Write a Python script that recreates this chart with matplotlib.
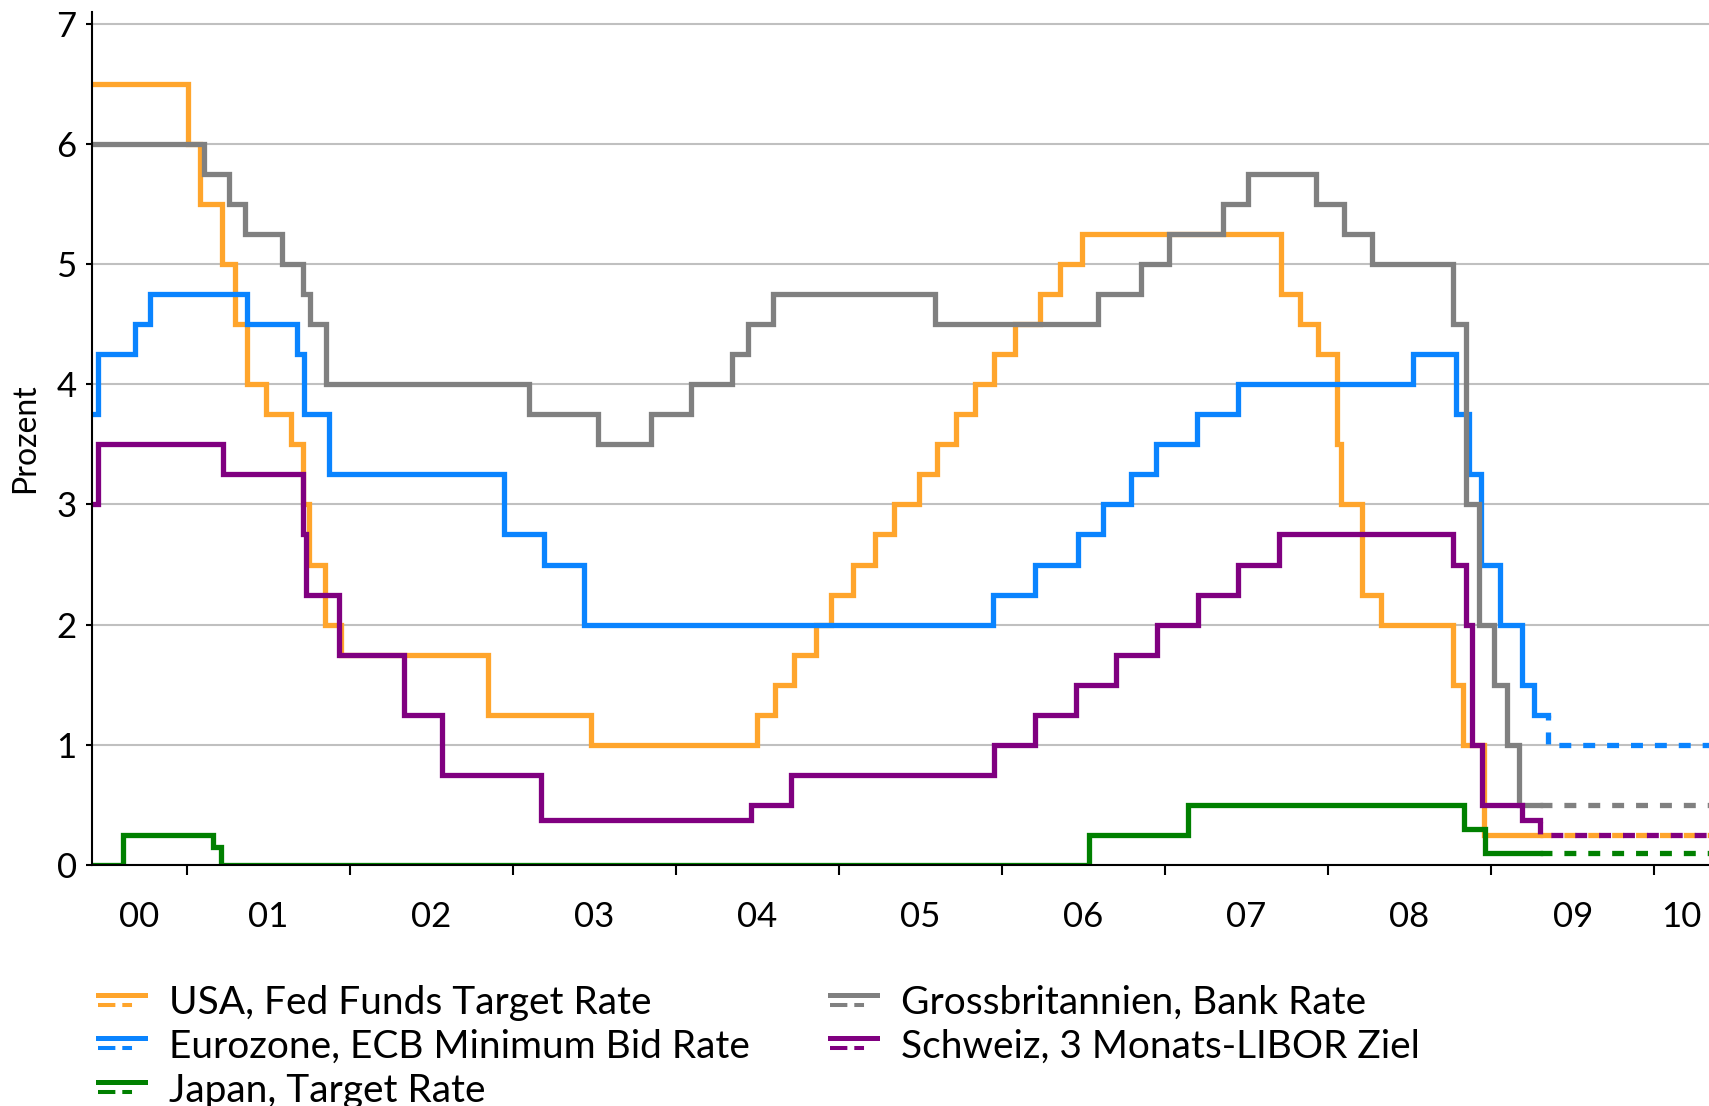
import matplotlib
matplotlib.use("Agg")
import matplotlib.pyplot as plt
import matplotlib.dates as mdates
from matplotlib.legend_handler import HandlerBase
from matplotlib.lines import Line2D
import pandas as pd

plt.rcParams['font.family'] = ['Lato', 'DejaVu Sans']
plt.rcParams['lines.scale_dashes'] = False

# Leitzinsen, Stufenwerte (Datum der Änderung, neuer Satz in %)
usa_dates = ["2000-06-01", "2001-01-03", "2001-01-31", "2001-03-20", "2001-04-18", "2001-05-15",
             "2001-06-27", "2001-08-21", "2001-09-17", "2001-10-02", "2001-11-06", "2001-12-11",
             "2002-11-06", "2003-06-25", "2004-06-30", "2004-08-10", "2004-09-21", "2004-11-10",
             "2004-12-14", "2005-02-02", "2005-03-22", "2005-05-03", "2005-06-30", "2005-08-09",
             "2005-09-20", "2005-11-01", "2005-12-13", "2006-01-31", "2006-03-28", "2006-05-10",
             "2006-06-29", "2007-09-18", "2007-10-31", "2007-12-11", "2008-01-22", "2008-01-30",
             "2008-03-18", "2008-04-30", "2008-10-08", "2008-10-29", "2008-12-16", "2009-04-20"]
usa_rates = [6.5, 6.0, 5.5, 5.0, 4.5, 4.0, 3.75, 3.5, 3.0, 2.5, 2.0, 1.75,
             1.25, 1.0, 1.25, 1.5, 1.75, 2.0, 2.25, 2.5, 2.75, 3.0, 3.25, 3.5,
             3.75, 4.0, 4.25, 4.5, 4.75, 5.0, 5.25, 4.75, 4.5, 4.25, 3.5, 3.0,
             2.25, 2.0, 1.5, 1.0, 0.25, 0.25]

ecb_dates = ["2000-06-01", "2000-06-15", "2000-09-06", "2000-10-11", "2001-05-15", "2001-09-05",
             "2001-09-19", "2001-11-14", "2002-12-11", "2003-03-12", "2003-06-09", "2005-12-12",
             "2006-03-15", "2006-06-21", "2006-08-15", "2006-10-16", "2006-12-13", "2007-03-14",
             "2007-06-13", "2008-07-09", "2008-10-15", "2008-11-12", "2008-12-10", "2009-01-21",
             "2009-03-11", "2009-04-08", "2009-05-08"]
ecb_rates = [3.75, 4.25, 4.5, 4.75, 4.5, 4.25, 3.75, 3.25, 2.75, 2.5, 2.0, 2.25,
             2.5, 2.75, 3.0, 3.25, 3.5, 3.75, 4.0, 4.25, 3.75, 3.25, 2.5, 2.0,
             1.5, 1.25, 1.25]

jpn_dates = ["2000-06-01", "2000-08-11", "2001-02-28", "2001-03-19", "2006-07-14", "2007-02-21",
             "2008-10-31", "2008-12-19", "2009-04-20"]
jpn_rates = [0.0, 0.25, 0.15, 0.0, 0.25, 0.5, 0.3, 0.1, 0.1]

uk_dates = ["2000-06-01", "2001-02-08", "2001-04-05", "2001-05-10", "2001-08-02", "2001-09-18",
            "2001-10-04", "2001-11-08", "2003-02-06", "2003-07-10", "2003-11-06", "2004-02-05",
            "2004-05-06", "2004-06-10", "2004-08-05", "2005-08-04", "2006-08-03", "2006-11-09",
            "2007-01-11", "2007-05-10", "2007-07-05", "2007-12-06", "2008-02-07", "2008-04-10",
            "2008-10-08", "2008-11-06", "2008-12-04", "2009-01-08", "2009-02-05", "2009-03-05",
            "2009-04-20"]
uk_rates = [6.0, 5.75, 5.5, 5.25, 5.0, 4.75, 4.5, 4.0, 3.75, 3.5, 3.75, 4.0,
            4.25, 4.5, 4.75, 4.5, 4.75, 5.0, 5.25, 5.5, 5.75, 5.5, 5.25, 5.0,
            4.5, 3.0, 2.0, 1.5, 1.0, 0.5, 0.5]

ch_dates = ["2000-06-01", "2000-06-15", "2001-03-22", "2001-09-17", "2001-09-24", "2001-12-07",
            "2002-05-02", "2002-07-26", "2003-03-06", "2004-06-17", "2004-09-16", "2005-12-15",
            "2006-03-16", "2006-06-15", "2006-09-14", "2006-12-14", "2007-03-15", "2007-06-14",
            "2007-09-13", "2008-10-08", "2008-11-06", "2008-11-20", "2008-12-11", "2009-03-12",
            "2009-04-20"]
ch_rates = [3.0, 3.5, 3.25, 2.75, 2.25, 1.75, 1.25, 0.75, 0.375, 0.5, 0.75, 1.0,
            1.25, 1.5, 1.75, 2.0, 2.25, 2.5, 2.75, 2.5, 2.0, 1.0, 0.5, 0.375, 0.375]

# Prognose (gestrichelt)
end_date = "2010-05-04"
usa_fc_dates = ["2009-04-20", end_date]
usa_fc_rates = [0.25, 0.25]
ecb_fc_dates = ["2009-05-08", "2009-05-08", end_date]
ecb_fc_rates = [1.25, 1.0, 1.0]
jpn_fc_dates = ["2009-04-20", end_date]
jpn_fc_rates = [0.1, 0.1]
uk_fc_dates = ["2009-04-20", end_date]
uk_fc_rates = [0.5, 0.5]
ch_fc_dates = ["2009-04-20", "2009-04-20", end_date]
ch_fc_rates = [0.375, 0.25, 0.25]

years = list(range(2000, 2011))
year_labels = ["00", "01", "02", "03", "04", "05", "06", "07", "08", "09", "10"]

c_usa = "#FFA52C"
c_ecb = "#0A84FF"
c_jpn = "#008000"
c_uk = "#808080"
c_ch = "#800080"

W, H = 1709, 1106
fig = plt.figure(figsize=(W / 100, H / 100), dpi=100)
ax = fig.add_axes([92 / W, 1 - 865 / H, (W - 92) / W, (865 - 11.6) / H])

lw = 3.8
dl = 8.6  # Strichlänge in pt
series = [
    (usa_dates, usa_rates, usa_fc_dates, usa_fc_rates, c_usa, (0, (dl, dl))),
    (ecb_dates, ecb_rates, ecb_fc_dates, ecb_fc_rates, c_ecb, (5.0, (dl, dl))),
    (uk_dates, uk_rates, uk_fc_dates, uk_fc_rates, c_uk, (0, (dl, dl))),
    (ch_dates, ch_rates, ch_fc_dates, ch_fc_rates, c_ch, (15.8, (dl, dl))),
    (jpn_dates, jpn_rates, jpn_fc_dates, jpn_fc_rates, c_jpn, (0, (dl, dl))),
]
for d, r, fd, fr, col, ls in series:
    ax.step(pd.to_datetime(d), r, where="post", color=col, lw=lw, solid_joinstyle="miter")
    ax.step(pd.to_datetime(fd), fr, where="post", color=col, lw=lw, linestyle=ls,
            dash_capstyle="butt")

x0 = mdates.date2num(pd.Timestamp("2000-06-02"))
x1 = mdates.date2num(pd.Timestamp(end_date))
ax.set_xlim(x0, x1)
ax.set_ylim(0, 7.1)

# x-Achse: Striche an Jahresanfängen, Beschriftung in der Mitte des sichtbaren Jahres
starts = [mdates.date2num(pd.Timestamp(f"{y}-01-01")) for y in years]
ax.set_xticks([s for s in starts if x0 < s < x1])
ax.tick_params(axis="x", which="major", length=7, width=1.5, direction="out", labelbottom=False)
mids = []
for y in years:
    a = max(mdates.date2num(pd.Timestamp(f"{y}-01-01")), x0)
    b = min(mdates.date2num(pd.Timestamp(f"{y + 1}-01-01")), x1)
    mids.append((a + b) / 2)
ax.set_xticks(mids, minor=True)
ax.set_xticklabels(year_labels, minor=True)
ax.tick_params(axis="x", which="minor", length=0, pad=26, labelsize=25)

ax.set_yticks(range(0, 8))
ax.tick_params(axis="y", length=4, width=1.5, pad=7, labelsize=25)
ax.yaxis.grid(True, color="#C0C0C0", lw=1.5)
ax.set_axisbelow(True)

for s in ["top", "right"]:
    ax.spines[s].set_visible(False)
for s in ["left", "bottom"]:
    ax.spines[s].set_linewidth(1.5)
    ax.spines[s].set_color("black")

fig.text(25 / W, 1 - 438 / H, "Prozent", rotation=90, ha="center", va="center", fontsize=23)


class SolidDashHandler(HandlerBase):
    # Legendensymbol: durchgezogene Linie oben, gestrichelte darunter
    def create_artists(self, legend, orig_handle, xdescent, ydescent, width, height, fontsize, trans):
        col = orig_handle.get_color()
        yc = (height - ydescent) / 2
        xs = [-xdescent, -xdescent + width]
        top = Line2D(xs, [yc + 0.15 * fontsize] * 2, color=col, lw=3.6, transform=trans)
        bot = Line2D(xs, [yc - 0.11 * fontsize] * 2, color=col, lw=2.9, transform=trans,
                     linestyle=(0, (12.5, 5.0, 7.0, 20.0)))
        return [top, bot]


def proxy(c):
    return Line2D([], [], color=c)


leg_kw = dict(frameon=False, fontsize=28, handlelength=1.21, handletextpad=0.62,
              labelspacing=0.2, borderpad=0, borderaxespad=0, loc="upper left",
              handler_map={Line2D: SolidDashHandler()})
fig.legend([proxy(c_usa), proxy(c_ecb), proxy(c_jpn)],
           ["USA, Fed Funds Target Rate", "Eurozone, ECB Minimum Bid Rate", "Japan, Target Rate"],
           bbox_to_anchor=(98 / W, 1 - 985 / H), **leg_kw)
fig.legend([proxy(c_uk), proxy(c_ch)],
           ["Grossbritannien, Bank Rate", "Schweiz, 3 Monats-LIBOR Ziel"],
           bbox_to_anchor=(830 / W, 1 - 985 / H), **leg_kw)

fig.savefig("out.png", dpi=100)
